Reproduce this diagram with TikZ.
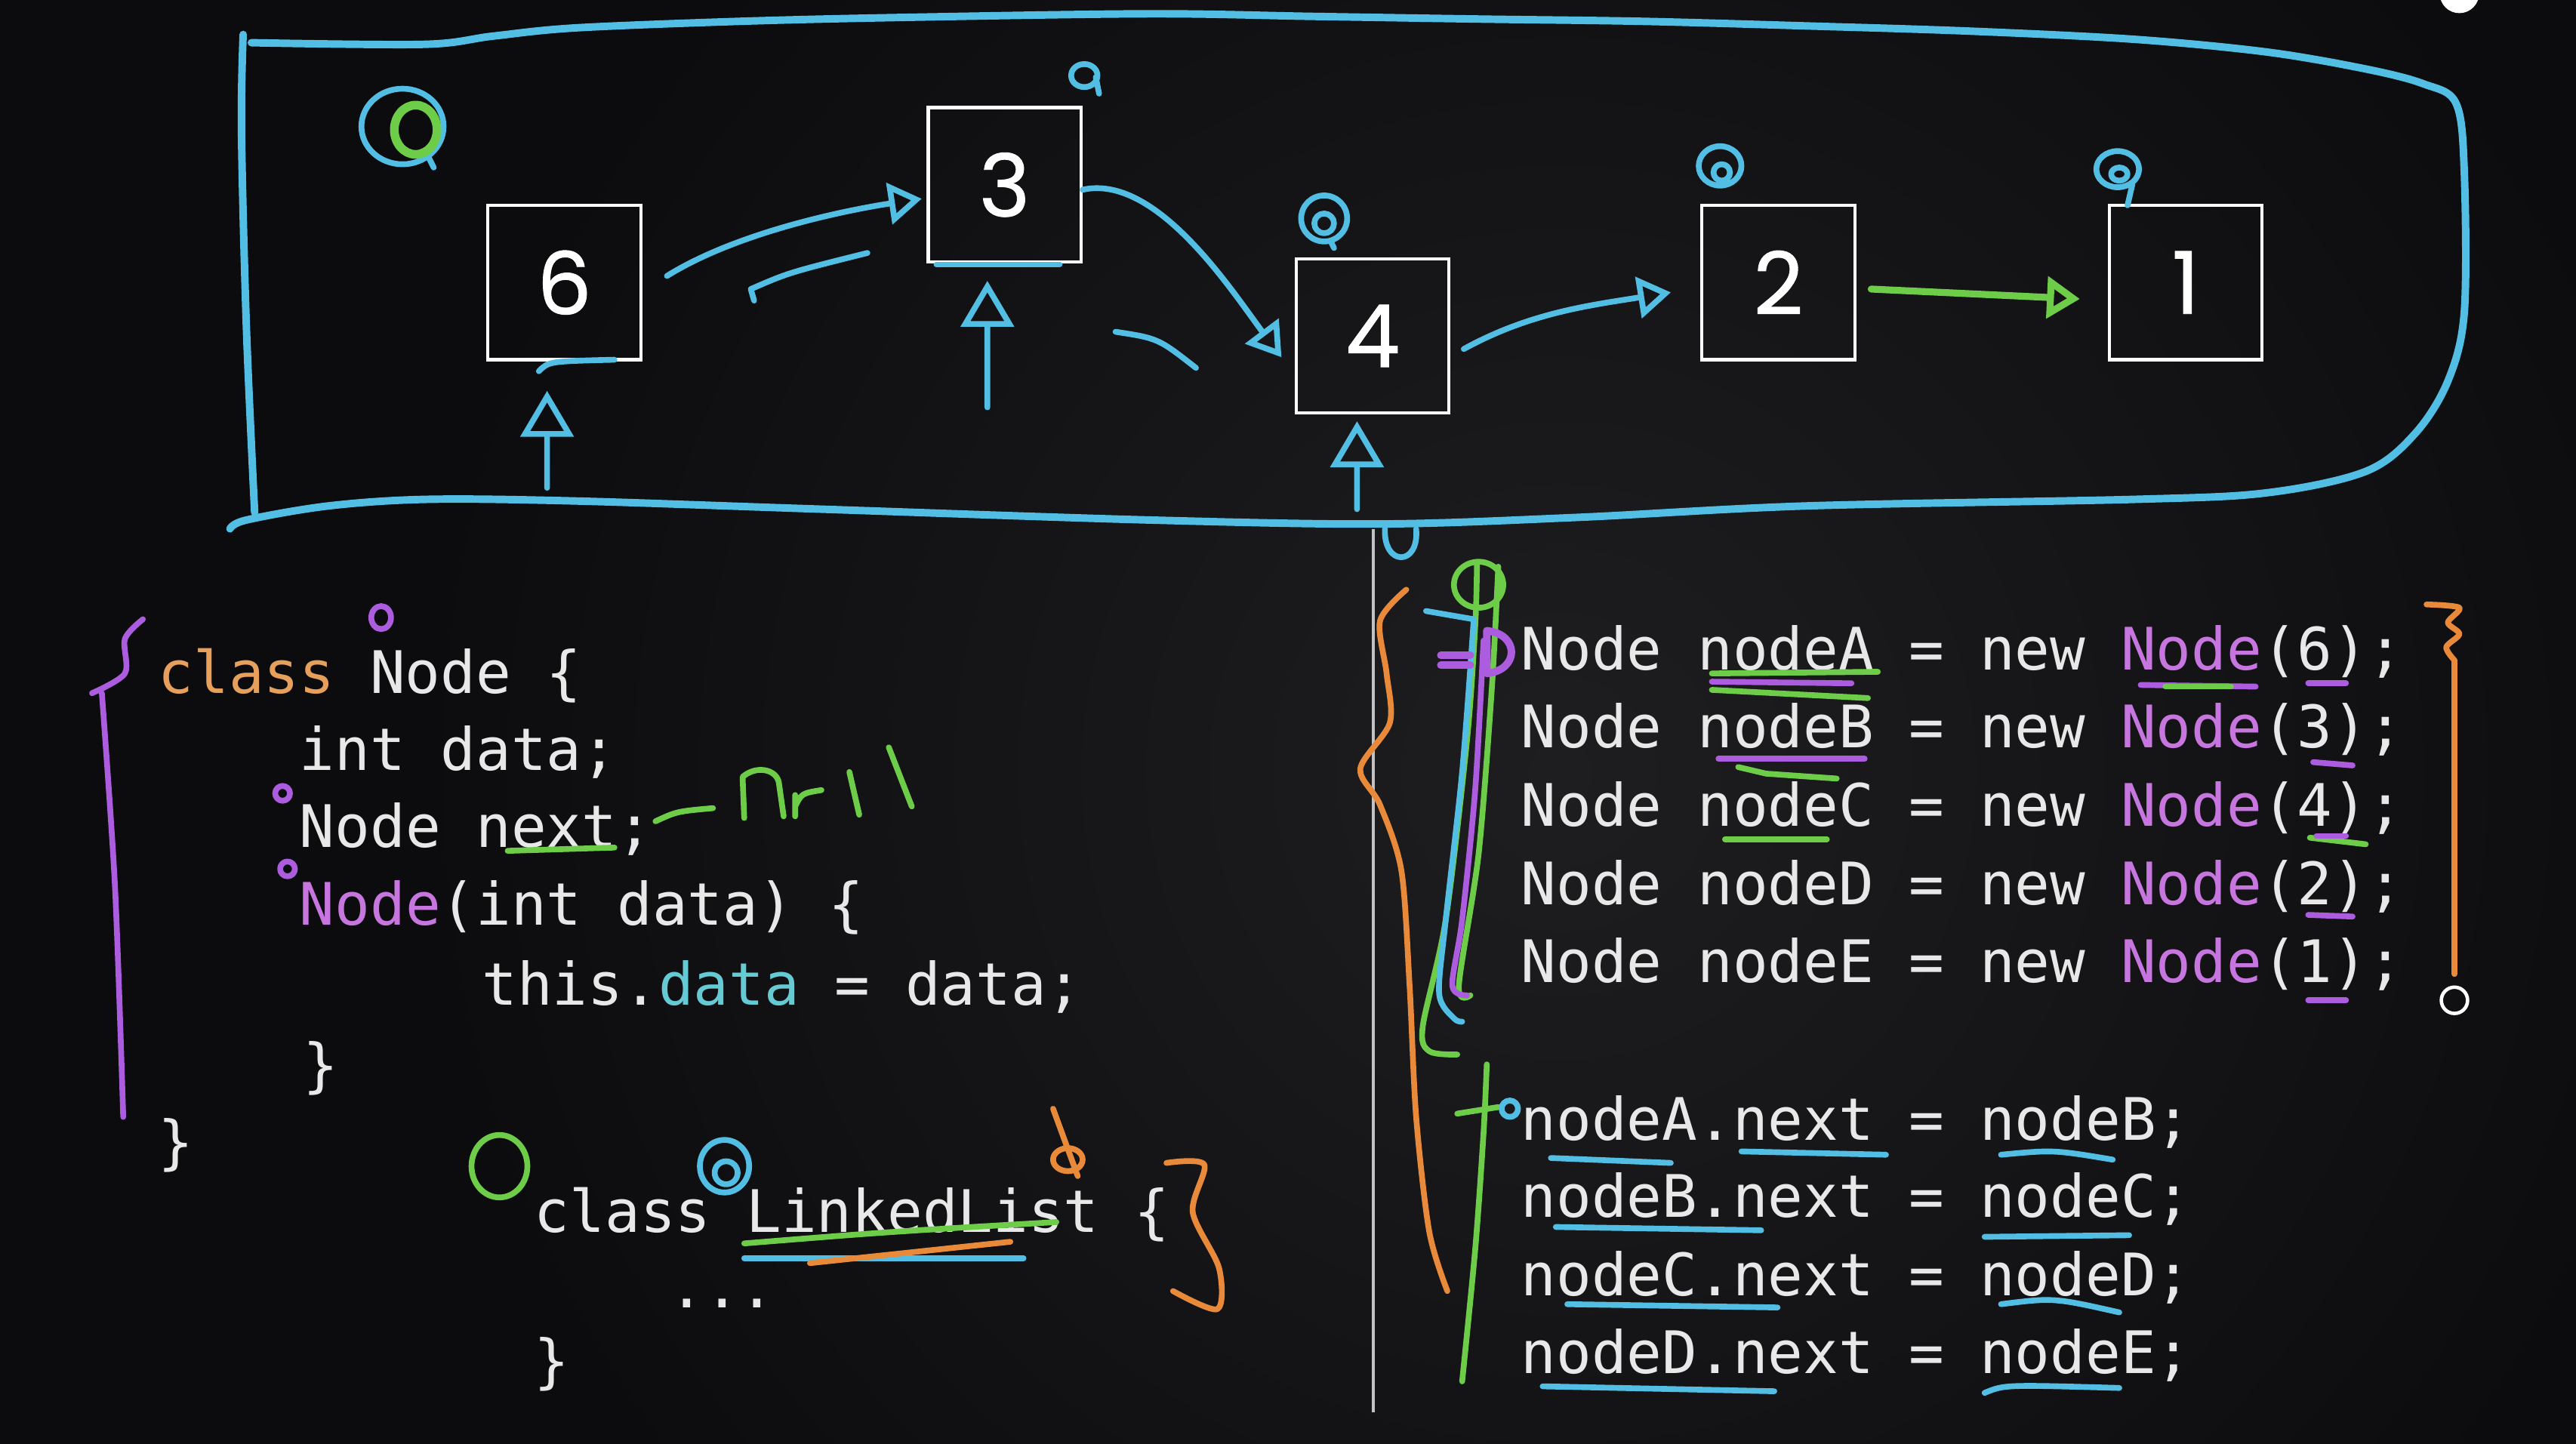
\documentclass[tikz,border=0pt]{standalone}
\usepackage{fontspec}
\newfontfamily\codefont{DejaVu Sans Mono}
\newfontfamily\digitfont[FakeBold=0.8]{Poppins}
\usetikzlibrary{arrows.meta, positioning}
\definecolor{board}{RGB}{12,12,14}
\definecolor{boardmid}{RGB}{30,30,32}
\definecolor{chalkcyan}{RGB}{82,190,228}
\definecolor{chalkgreen}{RGB}{110,205,72}
\definecolor{chalkpurple}{RGB}{172,92,222}
\definecolor{chalkorange}{RGB}{232,138,58}
\definecolor{kworange}{RGB}{230,160,92}
\definecolor{kwpurple}{RGB}{198,118,222}
\definecolor{kwcyan}{RGB}{100,202,212}
\definecolor{codewhite}{RGB}{232,232,232}

\begin{document}
\begin{tikzpicture}[x=0.2mm, y=-0.2mm,
  numbox/.style={draw=white, line width=1.1pt, minimum width=18.6mm, minimum height=18.8mm,
                 inner sep=0pt, text=white, font=\digitfont\fontsize{30}{30}\selectfont},
  code/.style={anchor=base west, inner sep=0pt, text=codewhite,
               font=\codefont\fontsize{20.3}{24}\selectfont},
  pen/.style={line width=2pt, line cap=round, line join=round},
  cy/.style={pen, draw=chalkcyan},
  gr/.style={pen, draw=chalkgreen},
  pu/.style={pen, draw=chalkpurple},
  og/.style={pen, draw=chalkorange},
  headr/.style={-{Triangle[open, length=4mm, width=5mm]}},
  headup/.style={-{Triangle[open, length=5.6mm, width=6.4mm]}}
]
  \useasboundingbox (0,0) rectangle (1568,879);
  \clip (0,0) rectangle (1568,879);
  \fill[board] (0,0) rectangle (1568,879);
  \shade[inner color=boardmid, outer color=board] (950,470) circle (700);
  \fill[white] (1497,-4) circle (12);

  % list of nodes
  \node[numbox] (n6) at (343.5,172) {6};
  \node[numbox] (n3) at (611.5,112.5) {3};
  \node[numbox] (n4) at (835.5,204.5) {4};
  \node[numbox] (n2) at (1082.5,172) {2};
  \node[numbox, right=30.6mm of n2] (n1) {1};

  \draw[cy, line width=2.6pt] plot[smooth, tension=0.55] coordinates {
    (155,312) (150,200) (147,80) (148,21)};
  \draw[cy, line width=2.6pt] plot[smooth, tension=0.55] coordinates {
    (153,26) (258,27) (300,22) (350,17) (450,13) (550,10.6) (700,8.4) (800,10) (900,11.6)
    (1000,13) (1100,15.8) (1200,19) (1300,24) (1380,31.7) (1440,42) (1475,51) (1495,63)
    (1500,105) (1500,190) (1490,232) (1470,264) (1440,287) (1380,300) (1300,304) (1100,308)
    (960,315) (840,319) (700,316.6) (500,310) (350,305) (260,304) (200,308) (150,316.6) (140,322)};

  % next pointers
  \draw[cy, headr] ([xshift=3mm, yshift=0.8mm]n6.east) .. controls +(45,-28) and +(-40,6) ..
    ([xshift=-0.6mm, yshift=-1.7mm]n3.west);
  \draw[cy, headr] ([yshift=-0.6mm]n3.east) .. controls +(45,-10) and +(-30,-40) ..
    ([xshift=-1.6mm, yshift=-2.6mm]n4.west);
  \draw[cy, headr] ([xshift=1.6mm, yshift=-1.6mm]n4.east) .. controls +(40,-22) and +(-50,8) ..
    ([xshift=-3.6mm, yshift=-1.2mm]n2.west);
  \draw[gr, headr, line width=2.4pt] ([xshift=1.8mm, yshift=-0.8mm]n2.east) --
    ([xshift=-3.4mm, yshift=-2mm]n1.west);

  % references from below
  \coordinate (r6) at (333,297);
  \coordinate (r3) at (601,248);
  \coordinate (r4) at (826,310);
  \draw[cy, headup] (r6) -- ([xshift=-2.1mm, yshift=-3.6mm]n6.south);
  \draw[cy, headup] (r3) -- ([xshift=-2.1mm, yshift=-2.1mm]n3.south);
  \draw[cy, headup] (r4) -- ([xshift=-1.9mm, yshift=-0.8mm]n4.south);

  % scribbles round the list
  \draw[cy] (459,183) -- (457,176) .. controls (480,166) .. (528,154);
  \draw[cy] (679,202) .. controls (705,206) .. (728,224);
  \draw[cy] (328,226) .. controls (334,220) .. (374,219);
  \draw[cy] (570,161) -- (645,161);
  \draw[cy] (245,77) ellipse (25 and 23);
  \draw[gr, line width=3pt] (253,79) ellipse (13 and 15);
  \draw[cy] (261,96) -- (264,102);
  \draw[cy] (660,46) ellipse (8 and 7) (667,47) -- (669,57);
  \draw[cy] (806,133) ellipse (14 and 14) (806,136) ellipse (6 and 6) (810,147) -- (812,151);
  \draw[cy] (1047,101) ellipse (13 and 12) (1048,105) ellipse (5 and 5);
  \draw[cy] (1289,103) ellipse (13 and 11) (1290,106) ellipse (5 and 4) (1298,112) -- (1295,125);

  % divider
  \draw[white!75!board, line width=0.9pt] (836,322) -- (836,860);
  \draw[cy] (843,322) .. controls (842,345) and (864,345) .. (862,322);

  % class Node
  \node[code] (c1) at (96,422) {\textcolor{kworange}{class} Node \{};
  \node[code] (c2) at (182,469) {int data;};
  \node[code] (c3) at (182,516) {Node next;};
  \node[code] (c4) at (182,563) {\textcolor{kwpurple}{Node}(int data) \{};
  \node[code] (c5) at (293,612) {this.\textcolor{kwcyan}{data} = data;};
  \node[code] (c6) at (184,661) {\}};
  \node[code] (c7) at (96,708) {\}};
  \node[code] (l1) at (325,750) {class LinkedList \{};
  \node[code] (l2) at (407,796) {...};
  \node[code] (l3) at (325,841) {\}};

  \draw[pu] plot[smooth] coordinates {(87,377) (76,389) (76,410) (56,422)};
  \draw[pu] plot[smooth] coordinates {(62,422) (70,540) (75,680)};
  \draw[pu] (232,376) ellipse (6 and 7);
  \draw[pu] (172,483) circle (4.5) (175,529) circle (4.5);
  \draw[gr] (309,518) -- (374,516);
  \draw[gr] (399,500) .. controls (412,494) .. (434,492);
  \draw[gr] (453,498) -- (452,473) .. controls (460,466) and (472,468) .. (474,476) -- (477,497);
  \draw[gr] (484,497) -- (484,484) (484,491) .. controls (488,483) .. (500,481);
  \draw[gr] (517,470) -- (523,496);
  \draw[gr] (541,455) -- (555,491);
  \draw[gr] (304,710) ellipse (17 and 19);
  \draw[cy] (441,710) ellipse (15 and 16) (442,714) ellipse (7 and 7);
  \draw[og] (641,675) -- (656,716) (650,706) ellipse (9 and 7);
  \draw[og] plot[smooth] coordinates {(710,708) (733,709) (726,738) (742,772) (741,797) (714,786)};
  \draw[gr] (453,757) .. controls (540,750) .. (643,744);
  \draw[cy] (453,766) -- (623,766);
  \draw[og] (493,769) -- (615,756);

  % node objects and links
  \node[code] (d1) at (925.5,408) {Node nodeA = new \textcolor{kwpurple}{Node}(6);};
  \node[code] (d2) at (925.5,455) {Node nodeB = new \textcolor{kwpurple}{Node}(3);};
  \node[code] (d3) at (925.5,503) {Node nodeC = new \textcolor{kwpurple}{Node}(4);};
  \node[code] (d4) at (925.5,551) {Node nodeD = new \textcolor{kwpurple}{Node}(2);};
  \node[code] (d5) at (925.5,598) {Node nodeE = new \textcolor{kwpurple}{Node}(1);};
  \node[code] (k1) at (925.5,694) {nodeA.next = nodeB;};
  \node[code] (k2) at (925.5,741) {nodeB.next = nodeC;};
  \node[code] (k3) at (925.5,789) {nodeC.next = nodeD;};
  \node[code] (k4) at (925.5,836) {nodeD.next = nodeE;};

  \draw[og] plot[smooth] coordinates {(856,359) (840,378) (844,410) (846,440) (828,468) (840,490)
    (853,530) (858,600) (862,680) (870,750) (881,786)};
  \draw[gr] (900,356) ellipse (15 and 14);
  \draw[gr] plot[smooth] coordinates {(899,344) (898,380) (893,450) (880,560) (866,625) (870,640) (887,642)};
  \draw[gr] plot[smooth] coordinates {(912,345) (908,420) (900,520) (888,600) (895,606)};
  \draw[cy] plot[smooth] coordinates {(897,378) (890,470) (880,560) (876,605) (885,620) (890,622)};
  \draw[pu] plot[smooth] coordinates {(903,390) (898,480) (890,560) (884,600) (893,606)};
  \draw[cy] (868,372) -- (897,377);
  \draw[pu, line width=2.6pt] (877,399) -- (895,399) (877,405) -- (895,405);
  \draw[pu, line width=2.6pt] (905,384) -- (905,410) (905,384) .. controls (925,386) and (925,408) .. (905,410);
  \draw[og] plot[smooth] coordinates {(1477,368) (1497,370) (1490,379) (1497,386) (1489,394) (1494,402)};
  \draw[og] (1494,402) -- (1494,593);
  \draw[white, line width=1.2pt] (1494,609) circle (8);
  \draw[gr] plot[smooth] coordinates {(905,648) (903,690) (898,760) (890,841)};
  \draw[gr] (887,678) -- (912,674);
  \draw[cy] (919,675) circle (5);

  \draw[gr] (1042,410) -- (1143,409);
  \draw[pu] (1042,415) -- (1127,416);
  \draw[gr] (1042,420) -- (1137,425);
  \draw[pu] (1303,417) -- (1373,418);
  \draw[gr] (1318,418) -- (1358,418);
  \draw[pu] (1405,416) -- (1428,416);
  \draw[pu] (1046,462) -- (1135,462);
  \draw[gr] (1058,467) -- (1075,471) -- (1118,474);
  \draw[gr] (1050,511) -- (1112,511);
  \draw[pu] (1408,464) -- (1432,466);
  \draw[gr] (1406,510) -- (1440,514);
  \draw[pu] (1410,509) -- (1428,509);
  \draw[pu] (1405,557) -- (1432,558);
  \draw[pu] (1405,609) -- (1428,609);

  \draw[cy] (944,705) -- (1017,708);
  \draw[cy] (1060,701) -- (1148,703);
  \draw[cy] (1218,703) .. controls (1250,700) .. (1286,706);
  \draw[cy] (947,747) -- (1072,749);
  \draw[cy] (1208,753) -- (1296,752);
  \draw[cy] (954,794) -- (1082,796);
  \draw[cy] (1218,794) .. controls (1250,790) .. (1290,799);
  \draw[cy] (939,844) -- (1080,847);
  \draw[cy] (1208,848) .. controls (1220,843) .. (1290,845);
\end{tikzpicture}
\end{document}
